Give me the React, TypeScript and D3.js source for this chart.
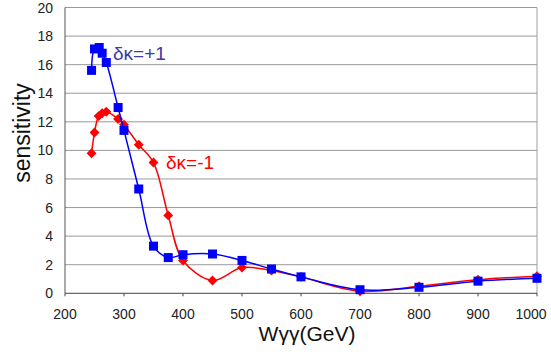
import React from 'react';
import * as d3 from 'd3';

// x positions in GeV and sensitivity for the two curves
const plusX = [245, 250, 258, 263, 270, 290, 300, 325, 350, 375, 400, 450, 500, 550, 600, 700, 800, 900, 1000];
const plusY = [15.6, 17.1, 17.2, 16.8, 16.15, 13.0, 11.4, 7.3, 3.3, 2.5, 2.7, 2.75, 2.3, 1.7, 1.15, 0.25, 0.42, 0.85, 1.05];

const minusX = [245, 250, 257, 263, 270, 290, 300, 325, 350, 375, 400, 450, 500, 550, 600, 700, 800, 900, 1000];
const minusY = [9.8, 11.25, 12.4, 12.6, 12.7, 12.2, 11.8, 10.4, 9.15, 5.45, 2.3, 0.9, 1.8, 1.6, 1.15, 0.15, 0.5, 0.95, 1.2];

const xTicks = [200, 300, 400, 500, 600, 700, 800, 900, 1000];
const yTicks = [0, 2, 4, 6, 8, 10, 12, 14, 16, 18, 20];

const W = 551, H = 354;
const left = 65, right = 537, top = 7.5, bottom = 293.3;

export default function App() {
  const x = d3.scaleLinear().domain([200, 1000]).range([left, right]);
  const y = d3.scaleLinear().domain([0, 20]).range([bottom, top]);

  const line = d3.line<[number, number]>()
    .x(d => x(d[0]))
    .y(d => y(d[1]))
    .curve(d3.curveCatmullRom.alpha(0.5));

  const plus = plusX.map((v, i) => [v, plusY[i]] as [number, number]);
  const minus = minusX.map((v, i) => [v, minusY[i]] as [number, number]);

  const font = '"Liberation Sans", Arial, sans-serif';

  return (
    <svg width={W} height={H} style={{ position: 'absolute', left: 0, top: 0, background: '#fff' }}>
      {/* grid */}
      {yTicks.filter(t => t > 0).map(t => (
        <line key={'g' + t} x1={left} x2={right} y1={y(t)} y2={y(t)} stroke="#999" strokeWidth={1} />
      ))}
      <line x1={right} x2={right} y1={top} y2={bottom} stroke="#a0a0a0" strokeWidth={1} />
      {/* axes */}
      <line x1={left} x2={left} y1={top} y2={bottom} stroke="#555" strokeWidth={1} />
      <line x1={left} x2={right} y1={bottom} y2={bottom} stroke="#444" strokeWidth={1} />
      {xTicks.map(t => (
        <line key={'xt' + t} x1={x(t)} x2={x(t)} y1={bottom} y2={bottom + 3} stroke="#444" strokeWidth={1} />
      ))}
      {yTicks.map(t => (
        <text key={'yl' + t} x={left - 12} y={y(t) + 5} textAnchor="end" fontSize={14} fontFamily={font} fill="#222">{t}</text>
      ))}
      {xTicks.map(t => (
        <text key={'xl' + t} x={Math.min(x(t), 531)} y={319} textAnchor="middle" fontSize={14} fontFamily={font} fill="#222">{t}</text>
      ))}
      {/* series */}
      <path d={line(minus) || ''} fill="none" stroke="#ff0000" strokeWidth={1.5} />
      {minus.map((d, i) => (
        <rect key={'m' + i} x={x(d[0]) - 3.5} y={y(d[1]) - 3.5} width={7} height={7} fill="#ff0000"
          transform={`rotate(45 ${x(d[0])} ${y(d[1])})`} />
      ))}
      <path d={line(plus) || ''} fill="none" stroke="#0000ff" strokeWidth={1.5} />
      {plus.map((d, i) => (
        <rect key={'p' + i} x={x(d[0]) - 4.5} y={y(d[1]) - 4.5} width={9} height={9} fill="#0000ff" />
      ))}
      {/* labels */}
      <text x={113} y={60} fontSize={19} fontFamily={font} fill="#3a3aa8">δκ=+1</text>
      <text x={166} y={169} fontSize={19} fontFamily={font} fill="#ff0000">δκ=-1</text>
      <text transform="translate(30,133) rotate(-90)" textAnchor="middle" fontSize={23} fontFamily={font} fill="#111">sensitivity</text>
      <text x={307} y={341} textAnchor="middle" fontSize={21} fontFamily={font} fill="#111">Wγγ(GeV)</text>
    </svg>
  );
}
